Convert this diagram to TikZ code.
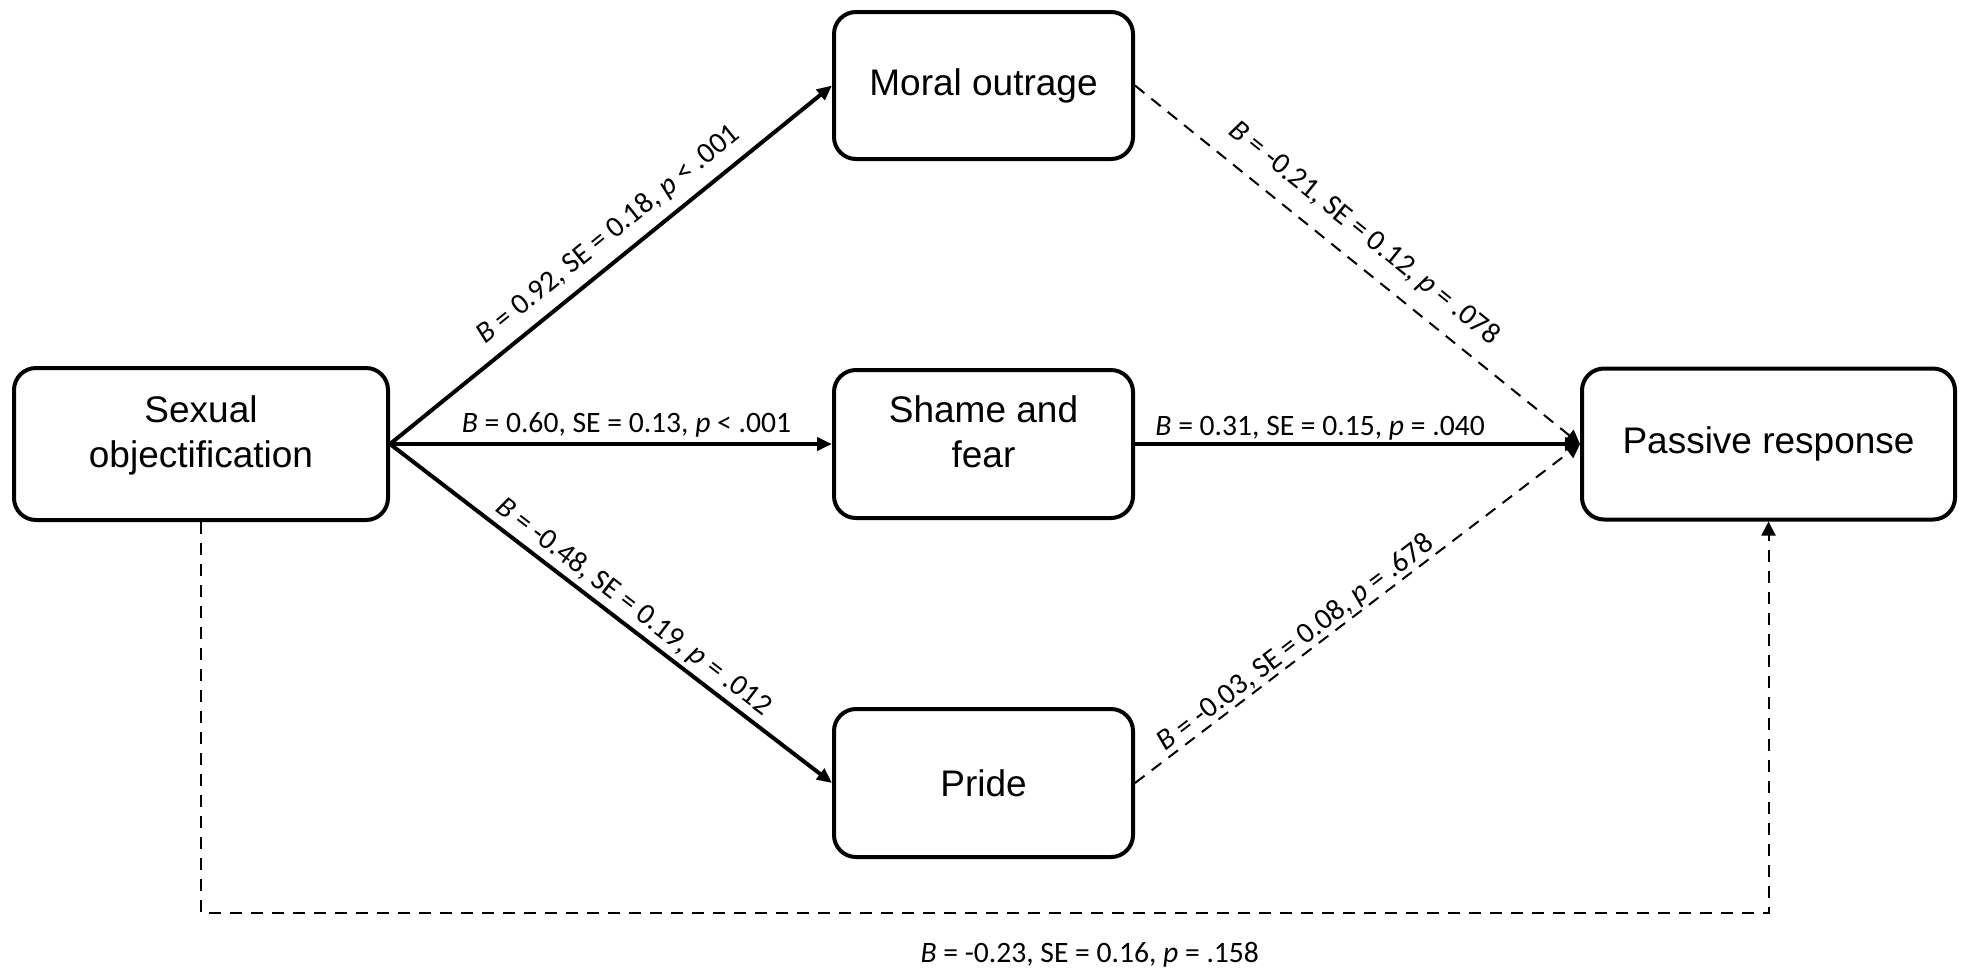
\documentclass[tikz,border=0pt]{standalone}
\usepackage{fontspec}
\setmainfont{Liberation Sans}
\newfontfamily\calib{Carlito}
\usetikzlibrary{arrows.meta}
\begin{document}
\begin{tikzpicture}[x=0.5pt,y=-0.5pt,
  box/.style={draw, line width=2pt, rounded corners=11pt, align=center, inner sep=0pt,
    font=\fontsize{18.5}{22.5}\selectfont},
  twoline/.style={text depth=12.5pt},
  midbox/.style={box, minimum width=149.5pt, minimum height=74pt},
  solidarrow/.style={line width=2pt, -{Triangle[length=7.5pt,width=6.5pt]}},
  dasharrow/.style={line width=1pt, dash pattern=on 6pt off 4.5pt, -{Triangle[length=7pt,width=7pt]}},
  lab/.style={font=\calib\fontsize{14.8}{16}\selectfont, inner sep=0pt, anchor=base},
  slab/.style={lab, sloped}
]
\useasboundingbox (0,0) rectangle (1963,971);
\node[box, twoline, minimum width=187pt, minimum height=76pt] (so) at (201,444) {Sexual\\objectification};
\node[midbox, minimum height=73.5pt] (mo) at (983.5,85.5) {Moral outrage};
\node[midbox, twoline] (sf) at (983.5,444) {Shame and\\fear};
\node[midbox] (pr) at (983.5,783) {Pride};
\node[box, minimum width=186.5pt, minimum height=75.5pt] (pa) at (1768.5,444) {Passive response};
\coordinate (c1) at (201,913);
\coordinate (c2) at (1768.5,913);

\draw[solidarrow] (so.east) -- node[slab, pos=0.53, yshift=8.5pt] {\textit{B} = 0.92, SE = 0.18, \textit{p} < .001} (mo.west);
\draw[solidarrow] (so.east) -- node[lab, pos=0.535, yshift=6pt] {\textit{B} = 0.60, SE = 0.13, \textit{p} < .001} (sf.west);
\draw[solidarrow] (so.east) -- node[slab, pos=0.525, yshift=5.5pt] {\textit{B} = -0.48, SE = 0.19, \textit{p} = .012} (pr.west);
\draw[dasharrow] (mo.east) -- node[slab, pos=0.475, yshift=10.5pt] {\textit{B} = -0.21, SE = 0.12, \textit{p} = .078} (pa.west);
\draw[solidarrow] (sf.east) -- node[lab, pos=0.416, yshift=4.5pt] {\textit{B} = 0.31, SE = 0.15, \textit{p} = .040} (pa.west);
\draw[dasharrow] (pr.east) -- node[slab, pos=0.38, yshift=3pt] {\textit{B} = -0.03, SE = 0.08, \textit{p} = .678} (pa.west);
\draw[dasharrow] (so.south) -- (c1) -- node[lab, pos=0.567, yshift=-24.5pt] {\textit{B} = -0.23, SE = 0.16, \textit{p} = .158} (c2) -- (pa.south);
\end{tikzpicture}
\end{document}
